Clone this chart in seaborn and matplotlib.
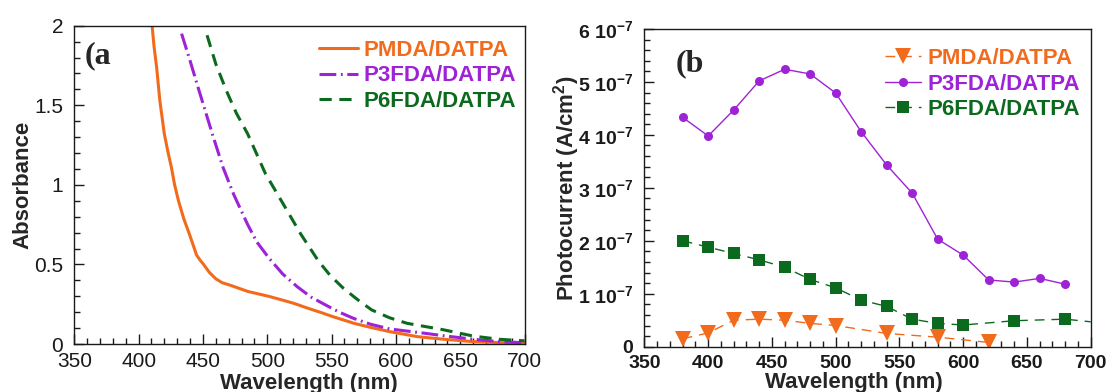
import numpy as np
import matplotlib
matplotlib.use('Agg')
import matplotlib.pyplot as plt
import seaborn as sns
from matplotlib.ticker import MultipleLocator, FuncFormatter

# ---- data ----
# (a) absorbance spectra
wl_pmda = [410.5, 412, 414, 416.5, 420, 423, 425.5, 428, 431, 435, 439.5, 442.5, 445,
           447.5, 450.5, 455, 460, 465, 471, 478, 485, 493, 501, 510, 520.5, 531.5,
           541, 551, 567.5, 580, 595, 617, 637, 660, 678, 700]
abs_pmda = [2.0, 1.87, 1.74, 1.53, 1.32, 1.2, 1.11, 1.0, 0.90, 0.79, 0.69, 0.62, 0.56,
            0.53, 0.50, 0.45, 0.41, 0.385, 0.37, 0.35, 0.33, 0.315, 0.30, 0.28, 0.256, 0.225,
            0.20, 0.172, 0.13, 0.105, 0.078, 0.046, 0.03, 0.015, 0.01, 0.005]

wl_p3fda = [433.4, 440, 446.3, 452, 457.3, 465.6, 473.9, 484.8, 492, 501.3, 512, 523.3,
            534, 545.4, 556, 567.4, 580, 595, 622, 637, 660, 680, 700]
abs_p3fda = [1.95, 1.78, 1.61, 1.46, 1.32, 1.11, 0.94, 0.75, 0.64, 0.54, 0.44, 0.36,
             0.295, 0.245, 0.2, 0.16, 0.125, 0.095, 0.068, 0.052, 0.03, 0.015, 0.008]

wl_p6fda = [453.2, 460, 468.3, 476, 484.8, 498.6, 512.4, 526.1, 539.9, 549, 559.2, 570,
            581.2, 595, 608.7, 636.6, 660, 680, 700]
abs_p6fda = [1.94, 1.76, 1.59, 1.45, 1.32, 1.07, 0.88, 0.69, 0.52, 0.43, 0.35, 0.28,
             0.214, 0.165, 0.13, 0.09, 0.05, 0.03, 0.02]

# (b) photocurrent (A/cm2)
wl_pc_pmda = [380, 400, 420, 440, 460, 480, 500, 540, 580, 620]
pc_pmda = [0.15e-7, 0.26e-7, 0.50e-7, 0.52e-7, 0.50e-7, 0.44e-7, 0.40e-7, 0.25e-7, 0.18e-7, 0.08e-7]

wl_pc_p3fda = [380, 400, 420, 440, 460, 480, 500, 520, 540, 560, 580, 600, 620, 640, 660, 680]
pc_p3fda = [4.33e-7, 3.98e-7, 4.47e-7, 5.02e-7, 5.24e-7, 5.15e-7, 4.79e-7, 4.06e-7,
            3.43e-7, 2.90e-7, 2.03e-7, 1.73e-7, 1.26e-7, 1.22e-7, 1.29e-7, 1.18e-7]

wl_pc_p6fda = [380, 400, 420, 440, 460, 480, 500, 520, 540, 560, 580, 600, 640, 680, 700]
pc_p6fda = [2.00e-7, 1.88e-7, 1.76e-7, 1.64e-7, 1.50e-7, 1.27e-7, 1.11e-7, 0.88e-7,
            0.76e-7, 0.52e-7, 0.44e-7, 0.41e-7, 0.49e-7, 0.52e-7, 0.47e-7]

labels = ['PMDA/DATPA', 'P3FDA/DATPA', 'P6FDA/DATPA']
colors = ['#F26B1D', '#9E22D6', '#0B6A1E']

# ---- style ----
sns.set_theme(style='ticks')
plt.rcParams['font.family'] = ['Liberation Sans', 'DejaVu Sans']
plt.rcParams['mathtext.fontset'] = 'custom'
plt.rcParams['mathtext.rm'] = 'Liberation Sans:bold'
plt.rcParams['mathtext.it'] = 'Liberation Sans:bold'
plt.rcParams['mathtext.bf'] = 'Liberation Sans:bold'
plt.rcParams['axes.linewidth'] = 1.0
plt.rcParams['axes.edgecolor'] = '#1a1a1a'

fig = plt.figure(figsize=(11.1, 3.92), dpi=100)
ax1 = fig.add_axes([0.0669, 0.1224, 0.4057, 0.8121])
ax2 = fig.add_axes([0.5806, 0.1156, 0.4020, 0.8104])

# ---- panel (a) ----
sns.lineplot(x=wl_pmda, y=abs_pmda, ax=ax1, color=colors[0], lw=2.2,
             linestyle='-', label=labels[0], sort=False)
sns.lineplot(x=wl_p3fda, y=abs_p3fda, ax=ax1, color=colors[1], lw=2.2,
             linestyle=(0, (5.5, 1.5, 0.6, 1.5)), label=labels[1], sort=False)
sns.lineplot(x=wl_p6fda, y=abs_p6fda, ax=ax1, color=colors[2], lw=2.2,
             linestyle=(0, (4, 2.5)), label=labels[2], sort=False)

ax1.set_xlim(350, 700)
ax1.set_ylim(0, 2)
ax1.xaxis.set_major_locator(MultipleLocator(50))
ax1.xaxis.set_minor_locator(MultipleLocator(10))
ax1.yaxis.set_major_locator(MultipleLocator(0.5))
ax1.yaxis.set_minor_locator(MultipleLocator(0.1))
ax1.yaxis.set_major_formatter(FuncFormatter(lambda v, p: f'{v:g}'))
ax1.tick_params(which='both', direction='in', top=False, right=False, colors='#1a1a1a')
ax1.tick_params(which='major', length=7, width=1)
ax1.tick_params(which='minor', length=4, width=1)
ax1.tick_params(axis='x', labelsize=15, pad=6)
ax1.tick_params(axis='y', labelsize=15, pad=8)
for sp in ax1.spines.values():
    sp.set_visible(True)
ax1.set_xlabel('Wavelength (nm)', fontsize=16, fontweight='bold')
ax1.set_ylabel('Absorbance', fontsize=16, fontweight='bold')
ax1.xaxis.set_label_coords(0.52, -0.09)
ax1.yaxis.set_label_coords(-0.09, 0.5)
ax1.text(0.022, 0.95, '(a', transform=ax1.transAxes, fontsize=23, fontweight='bold',
         family='Liberation Serif', va='top', ha='left')
leg1 = ax1.legend(loc='upper left', bbox_to_anchor=(0.543, 0.955), frameon=False,
                  prop={'weight': 'bold', 'size': 16}, labelcolor='linecolor',
                  handlelength=1.75, handletextpad=0.25, labelspacing=0.2,
                  borderpad=0, borderaxespad=0)

# ---- panel (b) ----
sns.lineplot(x=wl_pc_pmda, y=pc_pmda, ax=ax2, color=colors[0], lw=1.0,
             linestyle=(0, (7, 5)), marker='v', markersize=11, markeredgewidth=0,
             label=labels[0], sort=False)
sns.lineplot(x=wl_pc_p3fda, y=pc_p3fda, ax=ax2, color=colors[1], lw=1.0,
             linestyle='-', marker='o', markersize=6.5, markeredgewidth=0,
             label=labels[1], sort=False)
sns.lineplot(x=wl_pc_p6fda, y=pc_p6fda, ax=ax2, color=colors[2], lw=1.0,
             linestyle=(0, (7, 5)), marker='s', markersize=8, markeredgewidth=0,
             markevery=list(range(len(wl_pc_p6fda) - 1)), label=labels[2], sort=False)

ax2.set_xlim(350, 700)
ax2.set_ylim(0, 6e-7)
ax2.xaxis.set_major_locator(MultipleLocator(50))
ax2.xaxis.set_minor_locator(MultipleLocator(10))
ax2.yaxis.set_major_locator(MultipleLocator(1e-7))
ax2.yaxis.set_minor_locator(MultipleLocator(0.2e-7))


def pc_fmt(v, pos):
    n = int(round(v * 1e7))
    if n == 0:
        return '0'
    return f'{n} 10$^{{-7}}$'


ax2.yaxis.set_major_formatter(FuncFormatter(pc_fmt))
ax2.tick_params(which='both', direction='in', top=False, right=False, colors='#1a1a1a')
ax2.tick_params(which='major', length=7, width=1)
ax2.tick_params(which='minor', length=4, width=1)
ax2.tick_params(axis='x', labelsize=14, pad=6)
ax2.tick_params(axis='y', labelsize=14, pad=8)
for lab in ax2.get_xticklabels() + ax2.get_yticklabels():
    lab.set_fontweight('bold')
for sp in ax2.spines.values():
    sp.set_visible(True)
ax2.set_xlabel('Wavelength (nm)', fontsize=16, fontweight='bold')
ax2.set_ylabel('Photocurrent (A/cm$^2$)', fontsize=16, fontweight='bold')
ax2.xaxis.set_label_coords(0.47, -0.08)
ax2.yaxis.set_label_coords(-0.14, 0.5)
ax2.text(0.07, 0.935, '(b', transform=ax2.transAxes, fontsize=23, fontweight='bold',
         family='Liberation Serif', va='top', ha='left')
leg2 = ax2.legend(loc='upper left', bbox_to_anchor=(0.54, 0.94), frameon=False,
                  prop={'weight': 'bold', 'size': 16}, labelcolor='linecolor',
                  handlelength=1.6, handletextpad=0.3, labelspacing=0.2,
                  borderpad=0, borderaxespad=0)

fig.savefig('out.png', dpi=100)
